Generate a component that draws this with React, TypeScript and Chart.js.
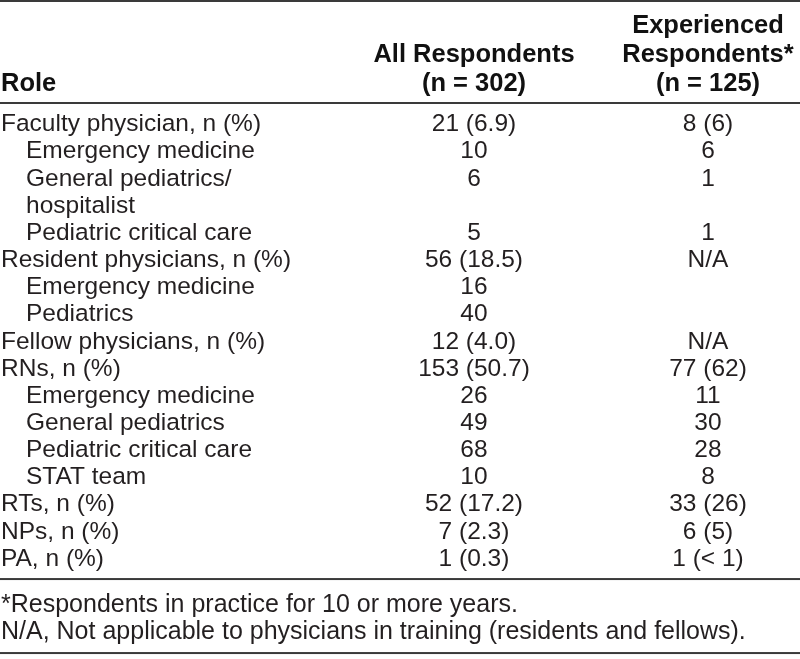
import React, { useEffect, useRef } from "react";
import { Chart, registerables } from "chart.js";

Chart.register(...registerables);

// ---- Table data ----
const roles: string[] = [
  "Faculty physician, n (%)",
  "Emergency medicine",
  "General pediatrics/",
  "hospitalist",
  "Pediatric critical care",
  "Resident physicians, n (%)",
  "Emergency medicine",
  "Pediatrics",
  "Fellow physicians, n (%)",
  "RNs, n (%)",
  "Emergency medicine",
  "General pediatrics",
  "Pediatric critical care",
  "STAT team",
  "RTs, n (%)",
  "NPs, n (%)",
  "PA, n (%)",
];
const roleIndent: number[] = [0, 1, 1, 1, 1, 0, 1, 1, 0, 0, 1, 1, 1, 1, 0, 0, 0];

const allRespondents: string[] = [
  "21 (6.9)", "10", "6", "", "5", "56 (18.5)", "16", "40", "12 (4.0)",
  "153 (50.7)", "26", "49", "68", "10", "52 (17.2)", "7 (2.3)", "1 (0.3)",
];
const experiencedRespondents: string[] = [
  "8 (6)", "6", "1", "", "1", "N/A", "", "", "N/A",
  "77 (62)", "11", "30", "28", "8", "33 (26)", "6 (5)", "1 (< 1)",
];

const roleHeader = "Role";
const columnHeaders: string[][] = [
  ["All Respondents", "(n = 302)"],
  ["Experienced", "Respondents*", "(n = 125)"],
];
const footnotes: string[] = [
  "*Respondents in practice for 10 or more years.",
  "N/A, Not applicable to physicians in training (residents and fellows).",
];

const columns: string[][] = [allRespondents, experiencedRespondents];

const TEXT = "#231f20";
const RULE = "#3a3a3a";
const FONT = '"Liberation Sans", Arial, Helvetica, sans-serif';

const tablePlugin = {
  id: "tableText",
  afterDatasetsDraw(chart: any) {
    const ctx = chart.ctx as CanvasRenderingContext2D;
    const area = chart.chartArea;
    const xs = chart.scales.x;
    const ys = chart.scales.y;
    const W = chart.width;
    ctx.save();

    // rules
    ctx.fillStyle = RULE;
    ctx.fillRect(0, 0, W, 2);
    ctx.fillRect(0, area.top - 8, W, 2);
    ctx.fillRect(0, area.bottom + 6.5, W, 2);
    ctx.fillRect(0, area.bottom + 80.5, W, 2);

    // row labels
    ctx.fillStyle = TEXT;
    ctx.font = `24.5px ${FONT}`;
    ctx.textBaseline = "middle";
    ctx.textAlign = "left";
    roles.forEach((r, i) => {
      ctx.fillText(r, area.left + 1 + roleIndent[i] * 25, ys.getPixelForValue(i) + 1);
    });

    // cells
    ctx.textAlign = "center";
    chart.data.datasets.forEach((ds: any, di: number) => {
      const meta = chart.getDatasetMeta(di);
      meta.data.forEach((el: any, i: number) => {
        const t = ds.data[i].text;
        if (t) ctx.fillText(t, el.x, el.y + 1);
      });
    });

    // headers
    ctx.fillStyle = "#111";
    ctx.font = `bold 25.5px ${FONT}`;
    const lastHeaderY = area.top - 26;
    const headerStep = 29;
    ctx.textAlign = "left";
    ctx.fillText(roleHeader, area.left + 1, lastHeaderY);
    ctx.textAlign = "center";
    columnHeaders.forEach((lines, ci) => {
      const x = xs.getPixelForValue(ci + 1);
      lines.forEach((ln, li) => {
        ctx.fillText(ln, x, lastHeaderY - (lines.length - 1 - li) * headerStep);
      });
    });

    // footnotes
    ctx.fillStyle = TEXT;
    ctx.font = `25px ${FONT}`;
    ctx.textAlign = "left";
    footnotes.forEach((f, i) => {
      ctx.fillText(f, area.left + 1, area.bottom + 34 + i * 27);
    });

    ctx.restore();
  },
};

export default function App() {
  const ref = useRef<HTMLCanvasElement>(null);
  useEffect(() => {
    document.body.style.margin = "0";
    if (!ref.current) return;
    const datasets = columns.map((col, ci) => ({
      label: columnHeaders[ci].join(" "),
      data: col
        .map((text, i) => ({ x: ci + 1, y: i, text }))
        .filter((p) => p.text !== ""),
      pointRadius: 0,
      pointHoverRadius: 0,
    }));
    const rowH = 27.15;
    const top = 110;
    const chart = new Chart(ref.current, {
      type: "scatter",
      data: { datasets },
      options: {
        animation: false,
        responsive: false,
        events: [],
        layout: {
          padding: {
            top,
            bottom: 659 - top - rowH * roles.length,
            left: 0,
            right: 0,
          },
        },
        plugins: { legend: { display: false }, tooltip: { enabled: false } },
        scales: {
          x: { type: "linear", display: false, min: -1.0256, max: 2.3932 },
          y: {
            type: "linear",
            display: false,
            reverse: true,
            min: -0.5,
            max: roles.length - 0.5,
          },
        },
      },
      plugins: [tablePlugin],
    } as any);
    return () => chart.destroy();
  }, []);
  return (
    <div style={{ position: "absolute", left: 0, top: 0, width: 800, height: 659, background: "#fff" }}>
      <canvas ref={ref} width={800} height={659} />
    </div>
  );
}
